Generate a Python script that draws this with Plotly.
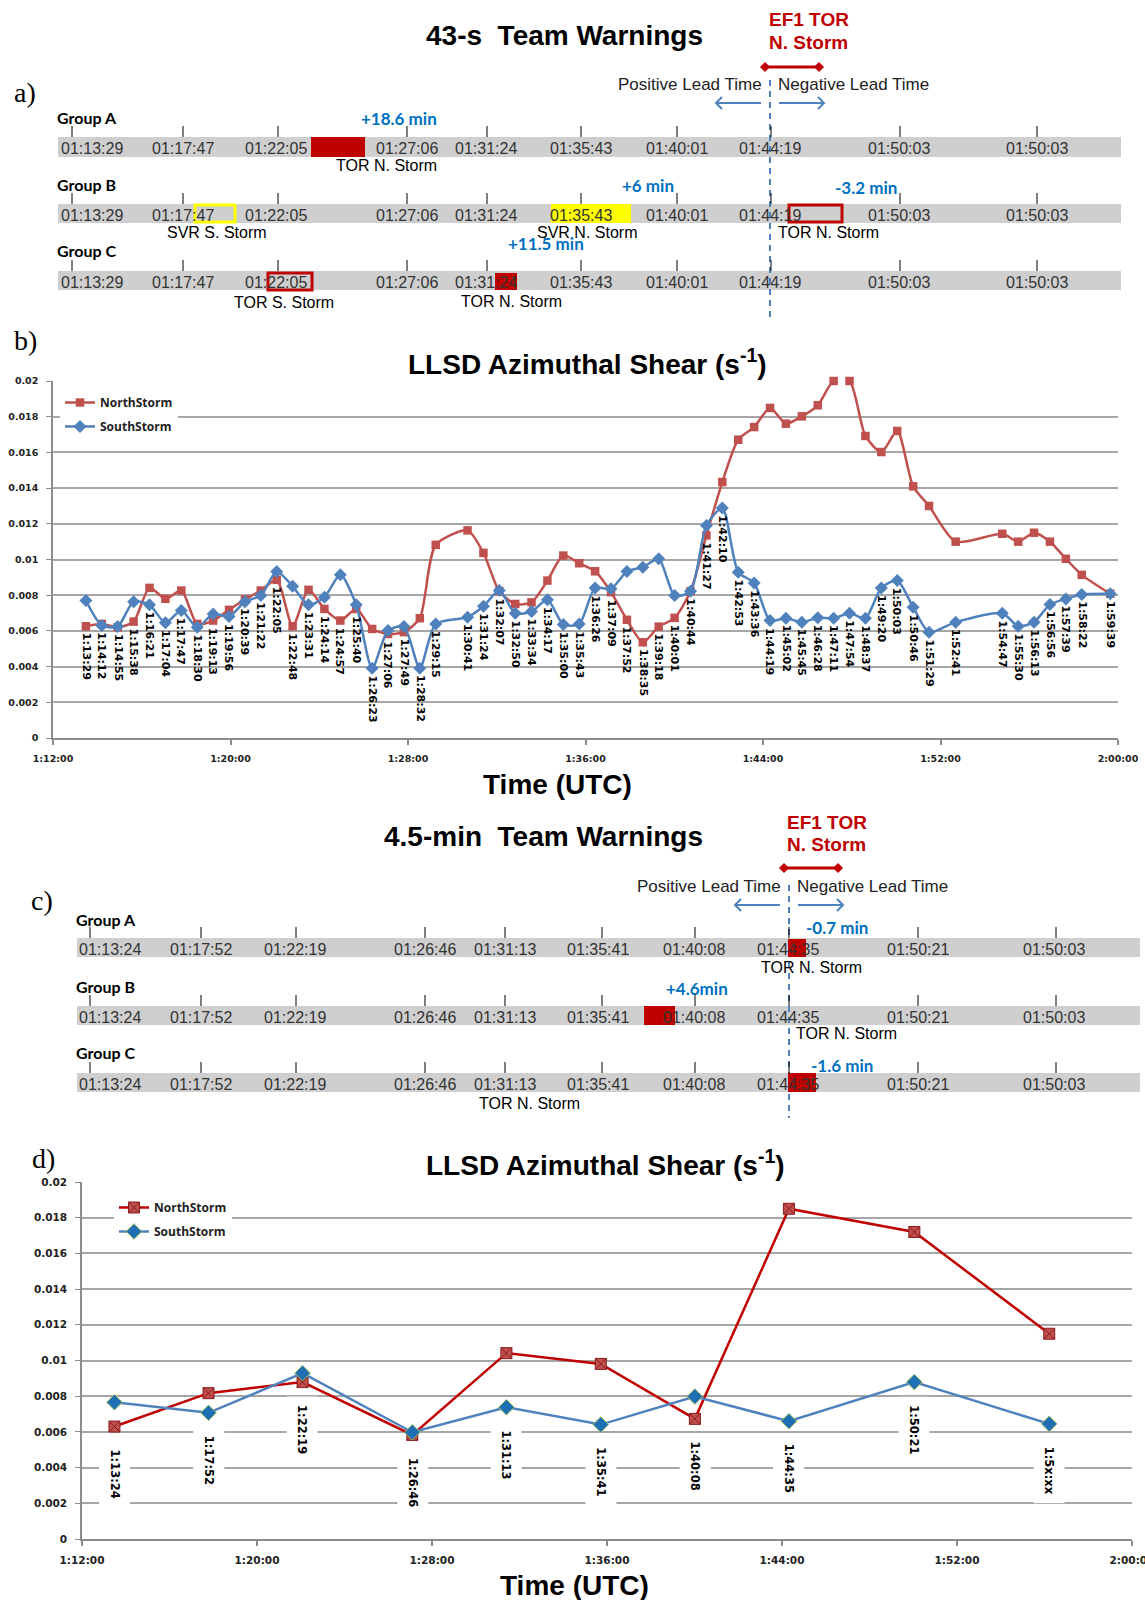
import plotly.graph_objects as go

W, H = 1145, 1600
DATE = "2013-05-20"

# ---------------- data: panel b (43-s updates) ----------------
b_times = ["1:13:29", "1:14:12", "1:14:55", "1:15:38", "1:16:21", "1:17:04", "1:17:47", "1:18:30",
           "1:19:13", "1:19:56", "1:20:39", "1:21:22", "1:22:05", "1:22:48", "1:23:31", "1:24:14",
           "1:24:57", "1:25:40", "1:26:23", "1:27:06", "1:27:49", "1:28:32", "1:29:15", "1:30:41",
           "1:31:24", "1:32:07", "1:32:50", "1:33:34", "1:34:17", "1:35:00", "1:35:43", "1:36:26",
           "1:37:09", "1:37:52", "1:38:35", "1:39:18", "1:40:01", "1:40:44", "1:41:27", "1:42:10",
           "1:42:53", "1:43:36", "1:44:19", "1:45:02", "1:45:45", "1:46:28", "1:47:11", "1:47:54",
           "1:48:37", "1:49:20", "1:50:03", "1:50:46", "1:51:29", "1:52:41", "1:54:47", "1:55:30",
           "1:56:13", "1:56:56", "1:57:39", "1:58:22", "1:59:39"]
b_north = [0.00626, 0.00639, 0.0062, 0.00652, 0.00841, 0.0078, 0.00826, 0.00639,
           0.00658, 0.00718, 0.00776, 0.00826, 0.00886, 0.00626, 0.0083, 0.00723,
           0.00658, 0.00723, 0.00611, 0.00583, 0.00593, 0.00671, 0.01082, 0.01163,
           0.01037, 0.00822, 0.00751, 0.0076, 0.00882, 0.01022, 0.00979, 0.00934,
           0.00817, 0.00662, 0.00536, 0.00624, 0.00673, 0.00822, 0.01135, 0.01434,
           0.01671, 0.01742, 0.01849, 0.01761, 0.01802, 0.01864, 0.0200, 0.0200,
           0.01692, 0.01602, 0.0172, 0.0141, 0.0130, 0.0110, 0.01144, 0.0110,
           0.0115, 0.0110, 0.01004, 0.00914, 0.00808]
b_south = [0.0077, 0.0063, 0.00624, 0.00764, 0.00746, 0.00645, 0.00714, 0.0062,
           0.00695, 0.0068, 0.00764, 0.00798, 0.00933, 0.0085, 0.00746, 0.00789,
           0.00914, 0.00746, 0.00391, 0.00602, 0.00624, 0.00391, 0.00639, 0.00677,
           0.00738, 0.00826, 0.00699, 0.00708, 0.00774, 0.00636, 0.00639, 0.0084,
           0.00836, 0.00933, 0.00957, 0.01004, 0.00798, 0.00822, 0.01191, 0.01288,
           0.00929, 0.00869, 0.00658, 0.00671, 0.00649, 0.00673, 0.00671, 0.00699,
           0.00671, 0.00841, 0.00882, 0.00733, 0.00593, 0.00649, 0.00699, 0.00626,
           0.00649, 0.00748, 0.00779, 0.00804, 0.00808]

# ---------------- data: panel d (4.5-min updates) ----------------
d_times = ["1:13:29", "1:17:47", "1:22:05", "1:27:06", "1:31:24", "1:35:43", "1:40:01",
           "1:44:19", "1:50:03", "1:56:13"]
d_labels = ["1:13:24", "1:17:52", "1:22:19", "1:26:46", "1:31:13", "1:35:41", "1:40:08",
            "1:44:35", "1:50:21", "1:5x:xx"]
d_north = [0.0063, 0.00817, 0.00879, 0.00583, 0.01041, 0.00981, 0.00673, 0.0185, 0.0172, 0.0115]
d_south = [0.00766, 0.00707, 0.00929, 0.00598, 0.00738, 0.00641, 0.00798, 0.0066, 0.00879, 0.00645]

y_ticks = [0, 0.002, 0.004, 0.006, 0.008, 0.01, 0.012, 0.014, 0.016, 0.018, 0.02]
y_tick_text = ["0", "0.002", "0.004", "0.006", "0.008", "0.01", "0.012", "0.014", "0.016", "0.018", "0.02"]

# ---------------- timeline tick labels ----------------
a_tick_labels = ["01:13:29", "01:17:47", "01:22:05", "01:27:06", "01:31:24", "01:35:43",
                 "01:40:01", "01:44:19", "01:50:03", "01:50:03"]
c_tick_labels = ["01:13:24", "01:17:52", "01:22:19", "01:26:46", "01:31:13", "01:35:41",
                 "01:40:08", "01:44:35", "01:50:21", "01:50:03"]
groups = ["Group A", "Group B", "Group C"]

# ---------------- styles / layout constants ----------------
RED_B = "#C0504D"
BLUE_B = "#4F81BD"
RED_D = "#C00000"
DARKRED = "#C00000"
LEAD_BLUE = "#0070C0"
ARROW_BLUE = "#4F81BD"
GRAY_BAR = "#CFCFCF"
GRID = "#A6A6A6"
AXIS = "#8C8C8C"
SERIF = "Liberation Serif"
ARIAL = "Liberation Sans"
NARROW = "Liberation Sans Narrow, Liberation Sans"
CAL = "Lato, Open Sans"
DV = "DejaVu Sans"
TL_SIZE = 16

annotations = []
shapes_bg = []
shapes_fg = []


def px(x):
    return x / W


def py(y):
    return 1 - y / H


def text(x, y, s, size, color="#000000", family=ARIAL, xanchor="center", yanchor="middle", angle=0, **kw):
    annotations.append(dict(x=px(x), y=py(y), xref="paper", yref="paper", text=s, showarrow=False,
                            font=dict(size=size, color=color, family=family), xanchor=xanchor,
                            yanchor=yanchor, textangle=angle, **kw))


def rect(x0, y0, x1, y1, fill=None, line=None, lw=0, target=None):
    (target if target is not None else shapes_fg).append(dict(
        type="rect", xref="paper", yref="paper", x0=px(x0), x1=px(x1), y0=py(y1), y1=py(y0),
        fillcolor=fill or "rgba(0,0,0,0)",
        line=dict(color=line or "rgba(0,0,0,0)", width=lw), layer="above"))


def seg(x0, y0, x1, y1, color="#000000", width=1, dash="solid"):
    shapes_fg.append(dict(type="line", xref="paper", yref="paper", x0=px(x0), x1=px(x1),
                          y0=py(y0), y1=py(y1), line=dict(color=color, width=width, dash=dash),
                          layer="above"))


def path(points, color, width, fill=None, closed=False):
    d = " ".join(("M" if i == 0 else "L") + "{},{}".format(px(x), py(y)) for i, (x, y) in enumerate(points))
    if closed:
        d += " Z"
    shapes_fg.append(dict(type="path", xref="paper", yref="paper", path=d,
                          fillcolor=fill or "rgba(0,0,0,0)", line=dict(color=color, width=width),
                          layer="above"))


def diamond(x, y, r, color):
    path([(x - r, y), (x, y - r), (x + r, y), (x, y + r)], color, 1, fill=color, closed=True)


def arrow(x_tail, x_head, y):
    seg(x_tail, y, x_head, y, color=ARROW_BLUE, width=2)
    d = 6 if x_head > x_tail else -6
    path([(x_head - d, y - 6), (x_head, y), (x_head - d, y + 6)], ARROW_BLUE, 2)


def timeline(labels, tick_x, label_x, bx0, bx1, by0, by1):
    rect(bx0, by0, bx1, by1, fill=GRAY_BAR, target=shapes_bg)
    for lab, tx, lx in zip(labels, tick_x, label_x):
        seg(tx, by0 - 11, tx, by0, color="#000000", width=1)
        text(lx, (by0 + by1) / 2 + 1.5, lab, TL_SIZE, color="#333333", family=NARROW)


def header(title, tx, ty, ef_x, ef_y, arr_y, lead_y, barrow_y, dash_x, dash_y0, dash_y1):
    text(tx, ty, "<b>" + title + "</b>", 28, family=ARIAL)
    text(ef_x, ef_y, "<b>EF1 TOR</b>", 19, color=DARKRED, xanchor="left")
    text(ef_x, ef_y + 23, "<b>N. Storm</b>", 19, color=DARKRED, xanchor="left")
    seg(dash_x - 5, arr_y, dash_x + 49, arr_y, color=DARKRED, width=3)
    diamond(dash_x - 5, arr_y, 4.5, DARKRED)
    diamond(dash_x + 49, arr_y, 4.5, DARKRED)
    text(dash_x - 6, lead_y, "Positive Lead Time", 17, color="#222222", xanchor="right")
    text(dash_x + 6, lead_y, "Negative Lead Time", 17, color="#222222", xanchor="left")
    arrow(dash_x - 9, dash_x - 54, barrow_y)
    arrow(dash_x + 9, dash_x + 54, barrow_y)
    seg(dash_x, dash_y0, dash_x, dash_y1, color=ARROW_BLUE, width=2, dash="6px,5px")


# ================= Panel a =================
text(25, 93, "a)", 28, family=SERIF)
header("43-s  Team Warnings", 564, 36, 767, 20, 67, 85, 103, 770, 80, 317)
a_tick_x = [72, 183, 278, 407, 487, 581, 677, 771, 900, 1037]
a_label_x = [92, 183, 276, 407, 486, 581, 677, 770, 899, 1037]
a_rows = [(117, 137, 157), (184, 204, 223), (250, 271, 290)]
for g, (gy, y0, y1) in zip(groups, a_rows):
    text(55, gy, "<b>" + g + "</b>", 16, family=CAL, xanchor="left")
    timeline(a_tick_labels, a_tick_x, a_label_x, 58, 1121, y0, y1)
# group A
rect(311, 137, 365, 157, fill=DARKRED)
text(386, 165, "TOR N. Storm", TL_SIZE, family=NARROW)
text(399, 119, "<b>+18.6 min</b>", 17, color=LEAD_BLUE, family=CAL)
# group B
rect(195, 205, 235, 222, line="#FFFF00", lw=3)
text(217, 232, "SVR S. Storm", TL_SIZE, family=NARROW)
rect(551, 204, 631, 223, fill="#FFFF00")
text(587, 232, "SVR N. Storm", TL_SIZE, family=NARROW)
rect(789, 205, 842, 222, line=DARKRED, lw=3)
text(828, 232, "TOR N. Storm", TL_SIZE, family=NARROW)
text(648, 186, "<b>+6 min</b>", 17, color=LEAD_BLUE, family=CAL)
text(866, 187, "<b>-3.2 min</b>", 17, color=LEAD_BLUE, family=CAL)
# group C
rect(268, 273, 312, 290, line=DARKRED, lw=3)
text(284, 303, "TOR S. Storm", TL_SIZE, family=NARROW)
rect(495, 273, 517, 290, fill=DARKRED)
text(511, 302, "TOR N. Storm", TL_SIZE, family=NARROW)
text(546, 244, "<b>+11.5 min</b>", 17, color=LEAD_BLUE, family=CAL)

# ================= Panel c =================
text(42, 900, "c)", 28, family=SERIF)
header("4.5-min  Team Warnings", 543, 837, 785, 822, 868, 887, 905, 789, 885, 1118)
c_tick_x = [90, 201, 296, 425, 505, 602, 695, 789, 918, 1056]
c_label_x = [110, 201, 295, 425, 505, 598, 694, 788, 918, 1054]
c_rows = [(919, 938, 957), (986, 1006, 1025), (1052, 1073, 1092)]
for g, (gy, y0, y1) in zip(groups, c_rows):
    text(74, gy, "<b>" + g + "</b>", 16, family=CAL, xanchor="left")
    timeline(c_tick_labels, c_tick_x, c_label_x, 77, 1140, y0, y1)
rect(788, 939, 806, 957, fill=DARKRED)
text(811, 967, "TOR N. Storm", TL_SIZE, family=NARROW)
text(837, 927, "<b>-0.7 min</b>", 17, color=LEAD_BLUE, family=CAL)
rect(644, 1006, 675, 1025, fill=DARKRED)
text(697, 988, "<b>+4.6min</b>", 17, color=LEAD_BLUE, family=CAL)
text(846, 1033, "TOR N. Storm", TL_SIZE, family=NARROW)
rect(788, 1073, 816, 1092, fill=DARKRED)
text(842, 1065, "<b>-1.6 min</b>", 17, color=LEAD_BLUE, family=CAL)
text(529, 1103, "TOR N. Storm", TL_SIZE, family=NARROW)

# ================= Panels b and d (charts) =================
def ts(t):
    h, m, s = t.split(":")
    return f"{DATE} {int(h):02d}:{m}:{s}"


fig = go.Figure()
fig.add_trace(go.Scatter(
    x=[ts(t) for t in b_times], y=b_north, mode="lines+markers", name="NorthStorm",
    line=dict(color=RED_B, width=2.5, shape="spline", smoothing=0.7),
    marker=dict(symbol="square", size=8.5, color=RED_B), xaxis="x", yaxis="y",
    legend="legend", legendgroup="n", cliponaxis=False))
fig.add_trace(go.Scatter(
    x=[ts(t) for t in b_times], y=b_south, mode="lines+markers", name="SouthStorm",
    line=dict(color=BLUE_B, width=2.5, shape="spline", smoothing=0.7),
    marker=dict(symbol="diamond", size=10, color=BLUE_B), xaxis="x", yaxis="y",
    legend="legend", legendgroup="s", cliponaxis=False))
fig.add_trace(go.Scatter(
    x=[ts(t) for t in d_times], y=d_north, mode="lines+markers", name="NorthStorm",
    line=dict(color=RED_D, width=2.5),
    marker=dict(symbol="square-x", size=11, color=RED_B, line=dict(color="#8B1A1A", width=1)),
    xaxis="x2", yaxis="y2", legend="legend2", legendgroup="n2", cliponaxis=False))
fig.add_trace(go.Scatter(
    x=[ts(t) for t in d_times], y=d_south, mode="lines+markers", name="SouthStorm",
    line=dict(color=BLUE_B, width=2.5),
    marker=dict(symbol="diamond", size=12, color="#1F6FB5", line=dict(color="#9BBB59", width=1)),
    xaxis="x2", yaxis="y2", legend="legend2", legendgroup="s2", cliponaxis=False))

# data labels (times) under the lower of the two points
for t, n, s in zip(b_times, b_north, b_south):
    annotations.append(dict(x=ts(t), y=min(n, s), xref="x", yref="y", text="<b>" + t + "</b>",
                            showarrow=False, textangle=90, xanchor="center", yanchor="top",
                            yshift=-5, font=dict(size=11, family=DV, color="#000000")))
for t, lab, n, s in zip(d_times, d_labels, d_north, d_south):
    annotations.append(dict(x=ts(t), y=min(n, s), xref="x2", yref="y2", text="<b>" + lab + "</b>",
                            showarrow=False, textangle=90, xanchor="center", yanchor="top",
                            yshift=-14, bgcolor="white", borderpad=8,
                            font=dict(size=11.5, family=DV, color="#000000")))

# panel labels and titles
text(25, 340, "b)", 28, family=SERIF)
text(587, 362, "<b>LLSD Azimuthal Shear (s<sup>-1</sup>)</b>", 28)
text(557, 784, "<b>Time (UTC)</b>", 28)
text(43, 1158, "d)", 28, family=SERIF)
text(605, 1163, "<b>LLSD Azimuthal Shear (s<sup>-1</sup>)</b>", 28)
text(575, 1585, "<b>Time (UTC)</b>", 28)


def xaxis_cfg(x0, x1, anchor, size):
    return dict(domain=[px(x0), px(x1)], anchor=anchor, type="date",
                range=[ts("1:12:00"), ts("2:00:00")], tick0=ts("1:12:00"), dtick=480000,
                tickformat="%-H:%M:%S", ticks="outside", ticklen=5, tickcolor=AXIS, tickwidth=1.5,
                showline=True, linecolor=AXIS, linewidth=1.5, showgrid=False, zeroline=False,
                ticklabelstandoff=6, automargin=False, ticklabeloverflow="allow",
                tickfont=dict(family=DV, size=size, color="#222222", weight="bold"))


def yaxis_cfg(y_top, y_bot, anchor, size):
    return dict(domain=[py(y_bot), py(y_top)], anchor=anchor, range=[0, 0.02],
                tickmode="array", tickvals=y_ticks, ticktext=y_tick_text,
                showgrid=True, gridcolor=GRID, gridwidth=1.5, showline=True, linecolor=AXIS,
                linewidth=1.5, ticks="outside", ticklen=5, tickcolor=AXIS, zeroline=False,
                ticklabelstandoff=6, automargin=False, ticklabeloverflow="allow",
                tickfont=dict(family=DV, size=size, color="#222222", weight="bold"))


legend_font = dict(family="Open Sans", size=12, color="#222222", weight="bold")
fig.update_layout(
    width=W, height=H, autosize=False,
    margin=dict(l=0, r=0, t=0, b=0, pad=0, autoexpand=False),
    paper_bgcolor="white", plot_bgcolor="white",
    xaxis=xaxis_cfg(53, 1118, "y", 9.5),
    yaxis=yaxis_cfg(381, 738, "x", 9.5),
    xaxis2=xaxis_cfg(82, 1132, "y2", 10.5),
    yaxis2=yaxis_cfg(1182, 1539, "x2", 10.5),
    legend=dict(x=px(60), y=py(388), xanchor="left", yanchor="top", bgcolor="white",
                font=legend_font, itemwidth=30, tracegroupgap=5, traceorder="grouped"),
    legend2=dict(x=px(114), y=py(1193), xanchor="left", yanchor="top", bgcolor="white",
                 font=legend_font, itemwidth=30, tracegroupgap=5, traceorder="grouped"),
    shapes=shapes_bg + shapes_fg,
    annotations=annotations,
    showlegend=True,
)

fig.write_html("out.html", config={"displayModeBar": False},
               post_script="document.body.style.margin='0px';")
